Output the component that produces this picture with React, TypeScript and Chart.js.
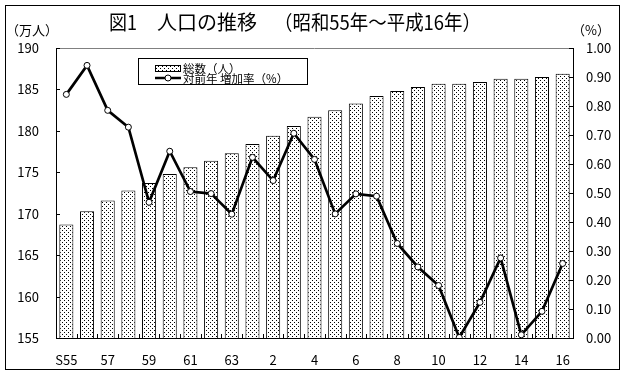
import React, { useEffect, useRef } from "react";
import { Chart, registerables } from "chart.js";

Chart.register(...registerables);

const categories = ["S55", "56", "57", "58", "59", "60", "61", "62", "63", "元", "2", "3", "4", "5", "6", "7", "8", "9", "10", "11", "12", "13", "14", "15", "16"];
const population = [168.7, 170.3, 171.6, 172.8, 173.7, 174.8, 175.6, 176.4, 177.3, 178.4, 179.4, 180.6, 181.7, 182.5, 183.3, 184.2, 184.8, 185.3, 185.7, 185.7, 185.9, 186.3, 186.3, 186.5, 186.9];
const growthRate = [0.84, 0.94, 0.785, 0.727, 0.468, 0.644, 0.505, 0.498, 0.427, 0.623, 0.543, 0.706, 0.616, 0.428, 0.497, 0.489, 0.326, 0.245, 0.181, 0.002, 0.123, 0.276, 0.011, 0.092, 0.257];

const titleParts = ["図1", "人口の推移", "（昭和55年〜平成16年）"];
const leftUnit = "（万人）";
const rightUnit = "（%）";
const barLabel = "総数（人）";
const lineLabel = "対前年 増加率（%）";

const FONT = '"Noto Sans CJK JP", "Noto Sans", sans-serif';

function makePattern(): CanvasPattern | string {
  const c = document.createElement("canvas");
  c.width = 4;
  c.height = 4;
  const g = c.getContext("2d");
  if (!g) return "#ccc";
  g.fillStyle = "#fff";
  g.fillRect(0, 0, 4, 4);
  g.fillStyle = "#000";
  g.fillRect(0, 0, 1, 1);
  g.fillRect(2, 2, 1, 1);
  const p = g.createPattern(c, "repeat");
  return p || "#ccc";
}

export default function App() {
  const ref = useRef<HTMLCanvasElement | null>(null);

  useEffect(() => {
    if (!ref.current) return;
    const pattern = makePattern();

    const decor = {
      id: "decor",
      beforeDraw(chart: any) {
        const ctx = chart.ctx;
        ctx.save();
        ctx.fillStyle = "#fff";
        ctx.fillRect(0, 0, chart.width, chart.height);
        ctx.restore();
      },
      afterDraw(chart: any) {
        const ctx = chart.ctx;
        const { left, top, right, bottom } = chart.chartArea;
        ctx.save();
        // outer border
        ctx.strokeStyle = "#000";
        ctx.lineWidth = 1;
        ctx.strokeRect(5.5, 5.5, 614, 364);
        // top grey line of plot
        ctx.strokeStyle = "#808080";
        ctx.beginPath();
        ctx.moveTo(left, top + 0.5);
        ctx.lineTo(right, top + 0.5);
        ctx.stroke();
        // tick marks inside
        ctx.strokeStyle = "#000";
        const ys = chart.scales.y;
        ys.ticks.forEach((t: any) => {
          const py = Math.round(ys.getPixelForValue(t.value)) + 0.5;
          ctx.beginPath();
          ctx.moveTo(left, py);
          ctx.lineTo(left + 4, py);
          ctx.stroke();
        });
        const y1 = chart.scales.y1;
        y1.ticks.forEach((t: any) => {
          const py = Math.round(y1.getPixelForValue(t.value)) + 0.5;
          ctx.beginPath();
          ctx.moveTo(right - 4, py);
          ctx.lineTo(right, py);
          ctx.stroke();
        });
        const n = categories.length;
        const cw = (right - left) / n;
        for (let i = 0; i <= n; i++) {
          const px = Math.round(left + i * cw) + 0.5;
          ctx.beginPath();
          ctx.moveTo(px, bottom);
          ctx.lineTo(px, bottom - 4);
          ctx.stroke();
        }
        // title
        ctx.fillStyle = "#000";
        ctx.textAlign = "left";
        ctx.textBaseline = "alphabetic";
        ctx.font = `20px ${FONT}`;
        ctx.fillText(titleParts[0], 109, 30, 28);
        ctx.fillText(titleParts[1], 157, 30, 102);
        ctx.fillText(titleParts[2], 274, 30, 207);
        // units
        ctx.font = `13px ${FONT}`;
        ctx.fillText(leftUnit, 6, 35);
        ctx.fillText(rightUnit, 572, 35);
        // legend
        const lx = 138, ly = 58, lw = 169, lh = 26;
        ctx.fillStyle = "#fff";
        ctx.fillRect(lx, ly, lw, lh);
        ctx.strokeStyle = "#000";
        ctx.strokeRect(lx + 0.5, ly + 0.5, lw, lh);
        // bar swatch
        ctx.fillStyle = pattern as any;
        ctx.fillRect(155, 65, 25, 6);
        ctx.strokeRect(155.5, 65.5, 25, 6);
        // line swatch
        ctx.lineWidth = 2.5;
        ctx.beginPath();
        ctx.moveTo(155, 78);
        ctx.lineTo(181, 78);
        ctx.stroke();
        ctx.lineWidth = 1;
        ctx.fillStyle = "#fff";
        ctx.beginPath();
        ctx.arc(168, 78, 3, 0, Math.PI * 2);
        ctx.fill();
        ctx.stroke();
        ctx.fillStyle = "#000";
        ctx.font = `11.5px ${FONT}`;
        ctx.fillText(barLabel, 183, 72.5);
        ctx.fillText(lineLabel, 183, 82.5);
        ctx.restore();
      },
    };

    const chart = new Chart(ref.current, {
      data: {
        labels: categories,
        datasets: [
          {
            type: "line",
            label: lineLabel,
            data: growthRate,
            yAxisID: "y1",
            borderColor: "#000",
            borderWidth: 2.7,
            pointRadius: 3,
            pointStyle: "circle",
            pointBackgroundColor: "#fff",
            pointBorderColor: "#000",
            pointBorderWidth: 1,
            tension: 0,
            order: 0,
          },
          {
            type: "bar",
            label: barLabel,
            data: population,
            yAxisID: "y",
            backgroundColor: pattern as any,
            borderColor: "#000",
            borderWidth: 1,
            barPercentage: 0.68,
            categoryPercentage: 1,
            order: 1,
          },
        ],
      } as any,
      options: {
        responsive: false,
        animation: false,
        layout: { padding: { top: 48, left: 0, right: 0, bottom: 0 } },
        plugins: {
          legend: { display: false },
          title: { display: false },
          tooltip: { enabled: false },
        },
        scales: {
          x: {
            grid: { display: false, drawTicks: false },
            border: { display: true, color: "#000", width: 1 },
            ticks: {
              autoSkip: false,
              maxRotation: 0,
              padding: 14,
              color: "#000",
              font: { family: FONT, size: 13 },
              callback: (_v: any, i: number) => (i % 2 === 0 ? categories[i] : ""),
            },
            afterFit: (s: any) => {
              s.height = 38;
            },
          },
          y: {
            position: "left",
            min: 155,
            max: 190,
            grid: { display: false, drawTicks: false },
            border: { display: true, color: "#000", width: 1 },
            ticks: {
              stepSize: 5,
              padding: 17,
              color: "#000",
              font: { family: FONT, size: 13 },
            },
            afterFit: (s: any) => {
              s.width = 56;
            },
          },
          y1: {
            position: "right",
            min: 0,
            max: 1,
            grid: { display: false, drawTicks: false },
            border: { display: true, color: "#000", width: 1 },
            ticks: {
              stepSize: 0.1,
              padding: 13,
              color: "#000",
              font: { family: FONT, size: 13 },
              callback: (v: any) => Number(v).toFixed(2),
            },
            afterFit: (s: any) => {
              s.width = 54;
            },
          },
        },
      } as any,
      plugins: [decor],
    });
    return () => chart.destroy();
  }, []);

  return (
    <div style={{ position: "absolute", left: 0, top: 0, width: 627, height: 376 }}>
      <canvas ref={ref} width={627} height={376} />
    </div>
  );
}
